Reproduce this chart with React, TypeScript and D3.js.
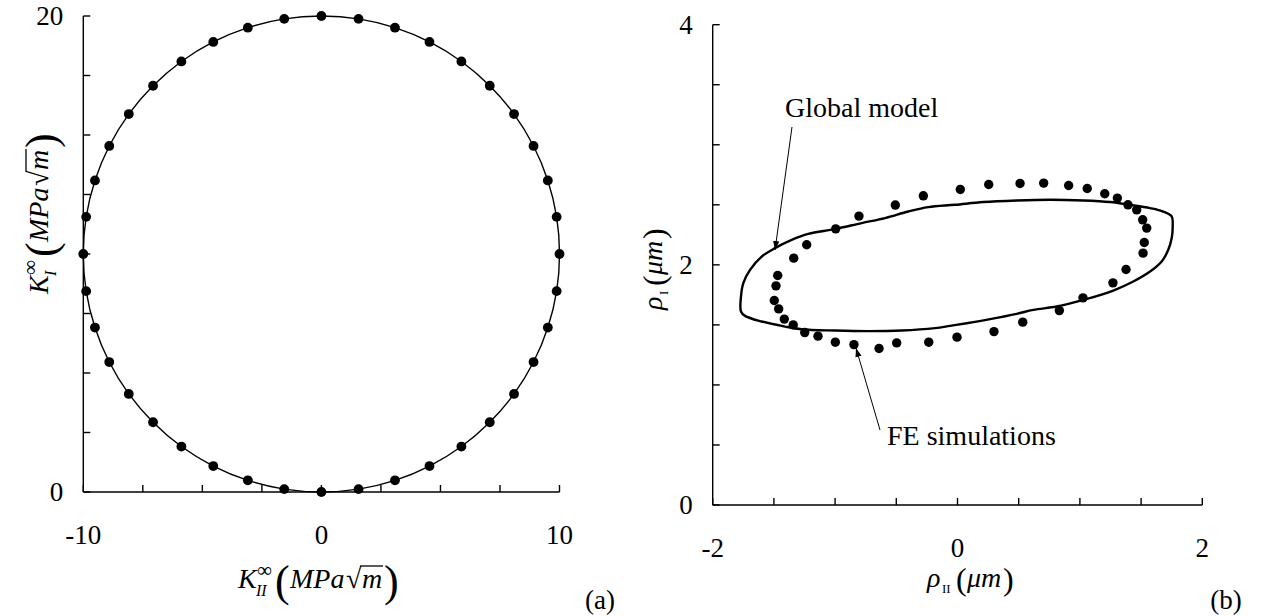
import React from 'react';
import * as d3 from 'd3';

// ---------- Data ----------
// (a) K_II^inf vs K_I^inf : FE points on the failure locus
const circleKII = [10, 9.88, 9.51, 8.91, 8.09, 7.07, 5.88, 4.54, 3.09, 1.56, 0, -1.56, -3.09, -4.54, -5.88, -7.07, -8.09, -8.91, -9.51, -9.88,
  -10, -9.88, -9.51, -8.91, -8.09, -7.07, -5.88, -4.54, -3.09, -1.56, 0, 1.56, 3.09, 4.54, 5.88, 7.07, 8.09, 8.91, 9.51, 9.88];
const circleKI = [10, 11.56, 13.09, 14.54, 15.88, 17.07, 18.09, 18.91, 19.51, 19.88, 20, 19.88, 19.51, 18.91, 18.09, 17.07, 15.88, 14.54, 13.09, 11.56,
  10, 8.44, 6.91, 5.46, 4.12, 2.93, 1.91, 1.09, 0.49, 0.12, 0, 0.12, 0.49, 1.09, 1.91, 2.93, 4.12, 5.46, 6.91, 8.44];

// (b) FE simulations (dots)
const feRhoII = [-1.469, -1.483, -1.497, -1.461, -1.415, -1.342, -1.248, -1.14, -0.998, -0.846, -0.641, -0.497, -0.235, -0.004, 0.298, 0.533, 0.832, 1.025, 1.27, 1.377,
  1.516, 1.526, 1.546, 1.513, 1.464, 1.393, 1.306, 1.203, 1.06, 0.908, 0.704, 0.511, 0.255, 0.023, -0.279, -0.508, -0.805, -0.995, -1.232, -1.338];
const feRhoI = [1.911, 1.825, 1.703, 1.633, 1.548, 1.5, 1.436, 1.406, 1.356, 1.336, 1.303, 1.35, 1.356, 1.398, 1.444, 1.523, 1.619, 1.725, 1.85, 1.961,
  2.098, 2.186, 2.306, 2.375, 2.458, 2.5, 2.556, 2.592, 2.636, 2.661, 2.681, 2.678, 2.669, 2.628, 2.575, 2.498, 2.406, 2.3, 2.167, 2.056];

// (b) Global model (closed curve)
const modelRhoII = [-1.769, -1.75, -1.695, -1.6, -1.491, -1.355, -1.219, -1.001, -0.783, -0.592, -0.402, -0.239, -0.02, 0.211, 0.484, 0.756, 1.028, 1.246, 1.409, 1.573,
  1.681, 1.75, 1.758, 1.75, 1.722, 1.668, 1.573, 1.436, 1.273, 1.028, 0.81, 0.619, 0.484, 0.266, 0.075, -0.061, -0.184, -0.456, -0.729, -1.001,
  -1.273, -1.409, -1.6, -1.736, -1.769];
const modelRhoI = [1.736, 1.848, 1.958, 2.069, 2.139, 2.208, 2.258, 2.298, 2.348, 2.389, 2.444, 2.481, 2.5, 2.523, 2.536, 2.542, 2.536, 2.523, 2.5, 2.473,
  2.444, 2.403, 2.319, 2.223, 2.125, 2.028, 1.944, 1.861, 1.786, 1.708, 1.653, 1.625, 1.592, 1.548, 1.514, 1.492, 1.473, 1.453, 1.448, 1.453,
  1.464, 1.486, 1.528, 1.575, 1.611];

const leftXTicks = d3.range(-10, 10.001, 2.5);
const leftYTicks = d3.range(0, 20.001, 2.5);
const leftXLabels = [-10, 0, 10];
const leftYLabels = [0, 20];
const rightXTicks = d3.range(-2, 2.001, 0.5);
const rightYTicks = d3.range(0, 4.001, 0.5);
const rightXLabels = [-2, 0, 2];
const rightYLabels = [0, 2, 4];

const FONT = "'Liberation Serif', 'DejaVu Serif', serif";
const serif: React.CSSProperties = { fontFamily: FONT };

function KLabel({ sub }: { sub: string }) {
  const subW = sub.length * 6;
  const x1 = 18;
  const x2 = x1 + Math.max(subW, 15) + 4;
  return (
    <g style={serif} fill="#000">
      <text x={0} y={0} fontSize={28} fontStyle="italic">K</text>
      <text x={x1} y={8} fontSize={16} fontStyle="italic">{sub}</text>
      <text x={x1 + 1} y={-11} fontSize={21}>∞</text>
      <text x={x2} y={8} fontSize={44}>(</text>
      <text x={x2 + 15} y={0} fontSize={28} fontStyle="italic">MPa</text>
      <text x={x2 + 71} y={0} fontSize={28}>√</text>
      <line x1={x2 + 85} x2={x2 + 108} y1={-22} y2={-22} stroke="#000" strokeWidth={1.3} />
      <text x={x2 + 87} y={0} fontSize={28} fontStyle="italic">m</text>
      <text x={x2 + 109} y={8} fontSize={44}>)</text>
    </g>
  );
}

function RhoLabel({ sub }: { sub: string }) {
  const subW = sub.length * 5;
  return (
    <g style={serif} fill="#000">
      <text x={0} y={0} fontSize={28} fontStyle="italic">ρ</text>
      <text x={15} y={6} fontSize={13}>{sub}</text>
      <text x={17 + subW + 2} y={3} fontSize={32}>(</text>
      <text x={17 + subW + 13} y={0} fontSize={28} fontStyle="italic">μm</text>
      <text x={17 + subW + 49} y={3} fontSize={32}>)</text>
    </g>
  );
}

export default function App() {
  const xL = d3.scaleLinear().domain([-10, 10]).range([83.3, 559.5]);
  const yL = d3.scaleLinear().domain([0, 20]).range([492, 16]);
  const xR = d3.scaleLinear().domain([-2, 2]).range([712.7, 1202.3]);
  const yR = d3.scaleLinear().domain([0, 4]).range([505, 24.7]);

  const circlePts: [number, number][] = circleKII.map((v, i) => [xL(v), yL(circleKI[i])]);
  const circlePath = d3.line().curve(d3.curveCatmullRomClosed.alpha(0.5))(circlePts) || '';

  const modelPts: [number, number][] = modelRhoII.map((v, i) => [xR(v), yR(modelRhoI[i])]);
  const modelPath = d3.line().curve(d3.curveCatmullRomClosed.alpha(0.5))(modelPts) || '';

  const tickLen = 7;
  const axisW = 1.4;

  return (
    <svg width={1263} height={616} style={{ position: 'absolute', left: 0, top: 0, background: '#fff' }}
      xmlns="http://www.w3.org/2000/svg">
      <defs>
        <marker id="arrow" viewBox="0 0 10 10" refX={10} refY={5} markerWidth={9} markerHeight={9}
          markerUnits="userSpaceOnUse" orient="auto">
          <path d="M0,1.5 L10,5 L0,8.5 Z" fill="#000" />
        </marker>
      </defs>

      {/* ---------- (a) ---------- */}
      <g>
        <line x1={xL(-10)} x2={xL(10)} y1={yL(0)} y2={yL(0)} stroke="#000" strokeWidth={axisW} />
        <line x1={xL(-10)} x2={xL(-10)} y1={yL(0)} y2={yL(20)} stroke="#000" strokeWidth={axisW} />
        {leftXTicks.map((t) => (
          <line key={'lx' + t} x1={xL(t)} x2={xL(t)} y1={yL(0)} y2={yL(0) - tickLen} stroke="#000" strokeWidth={axisW} />
        ))}
        {leftYTicks.map((t) => (
          <line key={'ly' + t} x1={xL(-10)} x2={xL(-10) + tickLen} y1={yL(t)} y2={yL(t)} stroke="#000" strokeWidth={axisW} />
        ))}
        {leftXLabels.map((t) => (
          <text key={'lxl' + t} x={xL(t)} y={yL(0) + 52} style={serif} fontSize={27} textAnchor="middle">{t}</text>
        ))}
        {leftYLabels.map((t) => (
          <text key={'lyl' + t} x={xL(-10) - 20} y={yL(t) + 9} style={serif} fontSize={27} textAnchor="end">{t}</text>
        ))}
        <path d={circlePath} fill="none" stroke="#000" strokeWidth={1.4} />
        {circlePts.map((p, i) => (
          <circle key={'cp' + i} cx={p[0]} cy={p[1]} r={4.9} fill="#000" />
        ))}
        <g transform="translate(238,588)"><KLabel sub="II" /></g>
        <g transform="translate(48,294) rotate(-90)"><KLabel sub="I" /></g>
        <text x={600} y={609} style={serif} fontSize={27} textAnchor="middle">(a)</text>
      </g>

      {/* ---------- (b) ---------- */}
      <g>
        <line x1={xR(-2)} x2={xR(2)} y1={yR(0)} y2={yR(0)} stroke="#000" strokeWidth={axisW} />
        <line x1={xR(-2)} x2={xR(-2)} y1={yR(0)} y2={yR(4)} stroke="#000" strokeWidth={axisW} />
        {rightXTicks.map((t) => (
          <line key={'rx' + t} x1={xR(t)} x2={xR(t)} y1={yR(0)} y2={yR(0) - tickLen} stroke="#000" strokeWidth={axisW} />
        ))}
        {rightYTicks.map((t) => (
          <line key={'ry' + t} x1={xR(-2)} x2={xR(-2) + tickLen} y1={yR(t)} y2={yR(t)} stroke="#000" strokeWidth={axisW} />
        ))}
        {rightXLabels.map((t) => (
          <text key={'rxl' + t} x={xR(t)} y={yR(0) + 52} style={serif} fontSize={27} textAnchor="middle">{t}</text>
        ))}
        {rightYLabels.map((t) => (
          <text key={'ryl' + t} x={xR(-2) - 20} y={yR(t) + 9} style={serif} fontSize={27} textAnchor="end">{t}</text>
        ))}
        <path d={modelPath} fill="none" stroke="#000" strokeWidth={2.4} strokeLinejoin="round" />
        {feRhoII.map((v, i) => (
          <circle key={'fe' + i} cx={xR(v)} cy={yR(feRhoI[i])} r={4.7} fill="#000" />
        ))}
        <line x1={792} y1={127} x2={775} y2={250} stroke="#000" strokeWidth={1} markerEnd="url(#arrow)" />
        <line x1={880} y1={430} x2={856} y2={348} stroke="#000" strokeWidth={1} markerEnd="url(#arrow)" />
        <text x={785} y={117} style={serif} fontSize={28}>Global model</text>
        <text x={887} y={445} style={serif} fontSize={28}>FE simulations</text>
        <g transform="translate(927,587)"><RhoLabel sub="II" /></g>
        <g transform="translate(662,310) rotate(-90)"><RhoLabel sub="I" /></g>
        <text x={1226} y={609} style={serif} fontSize={27} textAnchor="middle">(b)</text>
      </g>
    </svg>
  );
}
